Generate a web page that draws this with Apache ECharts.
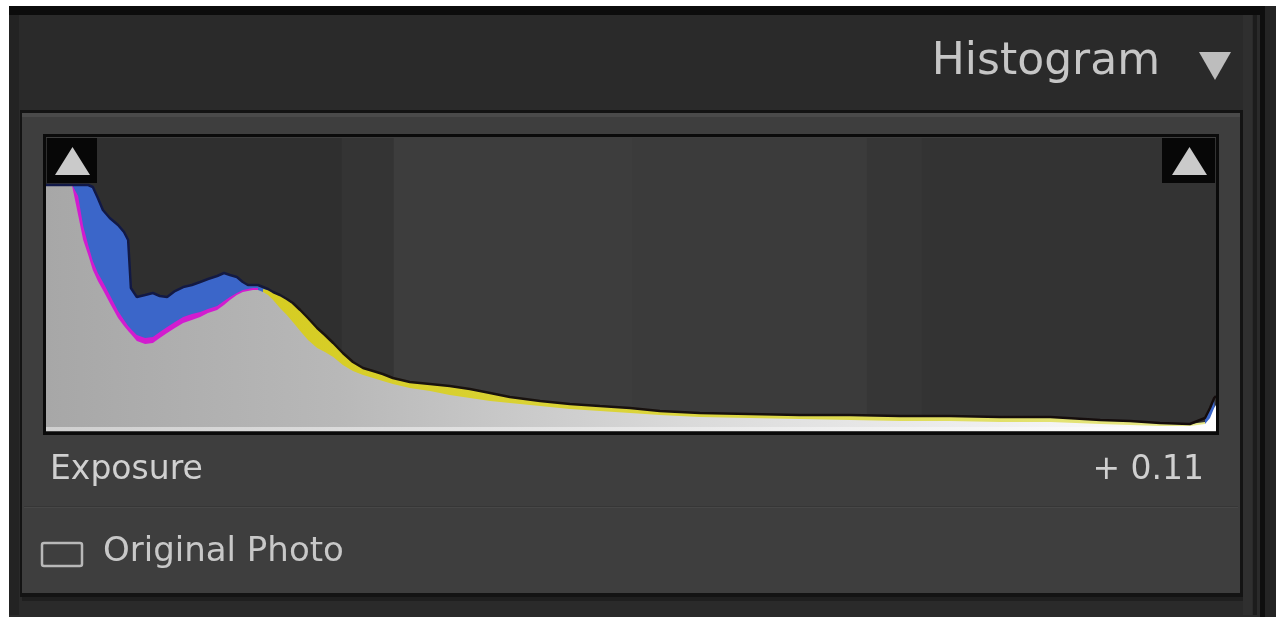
<!DOCTYPE html>
<html><head><meta charset="utf-8">
<script src="https://cdn.jsdelivr.net/npm/echarts@6/dist/echarts.min.js"></script>
<style>html,body{margin:0;padding:0;background:#ffffff;}#c{width:1276px;height:617px;}</style>
</head><body><div id="c"></div>
<script>
// tonal level (0-255) of each sample
const levels = [0,3.1,5.7,7.0,8.1,9.2,10.2,11.3,12.4,13.9,15.7,17.0,17.9,18.5,19.8,21.6,23.3,24.8,26.4,28.1,29.9,31.8,33.6,35.3,37.3,38.8,40.1,41.6,42.9,44.0,45.1,46.2,47.3,48.4,49.5,51.0,52.5,53.8,55.4,57.1,59.1,60.8,62.6,64.7,66.9,69.1,71.3,73.4,75.6,79.3,83.7,88.0,92.4,96.8,101.1,107.7,114.2,120.7,127.3,133.8,142.5,153.4,164.3,175.2,186.1,197.0,207.9,218.9,229.8,236.3,242.8,249.3,252.6,253.7,254.6,255];
// all-channel overlap (gray)
const lumaCounts = [246,246,245,216,191,176,161,150,141,128,113,105,100,97,90,87,88,93,98,103,108,111,114,118,121,126,131,136,139,140,141,141,139,136,131,123,116,109,100,91,83,79,74,66,60,56,53,50,47,43,40,36,33,30,28,25,22,20,18,16,14,13,12,11,10,10,9,9,7,6,5,5,7,13,23,26];
// red+blue overlap (magenta)
const magentaCounts = [246,246,246,235,205,186,170,158,149,136,120,111,105,102,96,93,94,99,104,109,114,117,119,122,125,130,134,138,141,142,143,143,
  null,null,null,null,null,null,null,null,null,null,null,null,null,null,null,null,null,null,null,null,null,null,null,null,null,null,null,null,null,null,null,null,null,null,null,null,null,null,null,null,null,null,null,null];
// blue channel
const blueCounts = [246,246,246,246,246,246,244,233,221,213,206,199,191,143,134,136,138,135,134,140,144,146,149,152,155,158,156,154,149,146,146,146,144,142,
  null,null,null,null,null,null,null,null,null,null,null,null,null,null,null,null,null,null,null,null,null,null,null,null,null,null,null,null,null,null,null,null,null,null,null,null,null,null,
  13,23,33,35];
// red+green overlap (yellow)
const yellowCounts = [null,null,null,null,null,null,null,null,null,null,null,null,null,null,null,null,null,null,null,null,null,null,null,null,null,null,null,null,null,null,null,null,
  142,141,139,136,132,128,121,113,103,96,88,78,69,63,60,57,53,49,47,45,42,38,34,30,27,25,23,20,18,17,16,16,15,15,14,14,11,10,8,7,9,
  null,null,null];
// histogram zones (levels)
const zoneEdges = [0, 64.5, 75.8, 127.9, 178.9, 190.9, 255];
const zoneShades = ['#2f2f2f','#343434','#3d3d3d','#3b3b3b','#363636','#333333'];
const headerTitle = 'Histogram';
const sliderLabel = 'Exposure';
const sliderValue = '+ 0.11';
const checkboxLabel = 'Original Photo';

const pairs = vals => levels.map((l, i) => [l, vals[i] == null ? '-' : vals[i]]);
const envelope = levels.map((l, i) => Math.max(...[lumaCounts[i], magentaCounts[i], blueCounts[i], yellowCounts[i]].filter(v => v != null)));

const G = echarts.graphic;
const FONT = '"DejaVu Sans", sans-serif';
const chart = echarts.init(document.getElementById('c'), null, {renderer: 'canvas'});

function area(name, vals, color, z) {
  return {
    name, type: 'line', data: pairs(vals), symbol: 'none', smooth: false, z,
    lineStyle: {width: 0}, areaStyle: {color, opacity: 1}, silent: true
  };
}

const zoneData = zoneShades.map((c, i) => [{xAxis: zoneEdges[i], itemStyle: {color: c}}, {xAxis: zoneEdges[i + 1]}]);

const option = {
  animation: false,
  backgroundColor: '#ffffff',
  grid: {left: 46, right: 60, top: 138, bottom: 186},
  xAxis: {type: 'value', min: 0, max: 255, show: false},
  yAxis: {type: 'value', min: 0, max: 293, show: false},
  series: [
    Object.assign(area('Blue', blueCounts, '#3b66c9', 3), {
      markArea: {silent: true, z: 1, data: zoneData}
    }),
    area('Magenta', magentaCounts, '#d21ccf', 4),
    area('Yellow', yellowCounts, new G.LinearGradient(0, 0, 1, 0, [
      {offset: 0, color: '#d6cc22'}, {offset: 0.5, color: '#dcd640'}, {offset: 1, color: '#e6e88a'}]), 5),
    area('Luminance', lumaCounts, new G.LinearGradient(0, 0, 1, 0, [
      {offset: 0, color: '#a7a7a7'}, {offset: 0.25, color: '#b8b8b8'}, {offset: 0.55, color: '#dadada'}, {offset: 1, color: '#ffffff'}]), 6),
    {
      name: 'Outline', type: 'line', data: pairs(envelope), symbol: 'none', z: 7, silent: true,
      lineStyle: {width: 2.5, color: new G.LinearGradient(0, 0, 1, 0, [
        {offset: 0, color: '#101848'}, {offset: 0.18, color: '#141a40'}, {offset: 0.22, color: '#1a1410'}, {offset: 1, color: '#140c0c'}])}
    }
  ],
  graphic: [
    // outer frame
    {type: 'rect', z: -20, shape: {x: 9, y: 6, width: 1267, height: 611}, style: {fill: '#2a2a2a'}},
    {type: 'rect', z: -19, shape: {x: 9, y: 6, width: 1267, height: 9}, style: {fill: '#0c0c0c'}},
    {type: 'rect', z: -19, shape: {x: 9, y: 15, width: 10, height: 600}, style: {fill: '#232323'}},
    // right side strips
    {type: 'rect', z: -19, shape: {x: 1243, y: 15, width: 9, height: 600}, style: {fill: '#2f2f2f'}},
    {type: 'rect', z: -19, shape: {x: 1253, y: 15, width: 4, height: 600}, style: {fill: '#1c1c1c'}},
    {type: 'rect', z: -19, shape: {x: 1260, y: 6, width: 5, height: 611}, style: {fill: '#0e0e0e'}},
    {type: 'rect', z: -19, shape: {x: 1265, y: 6, width: 11, height: 611}, style: {fill: '#242424'}},
    // panel
    {type: 'rect', z: -18, shape: {x: 20, y: 110, width: 1223, height: 487}, style: {fill: '#131313'}},
    {type: 'rect', z: -17, shape: {x: 22, y: 113, width: 1218, height: 480}, style: {fill: '#3e3e3e'}},
    {type: 'rect', z: -16, shape: {x: 22, y: 113, width: 1218, height: 4}, style: {fill: '#4a4a4a'}},
    {type: 'rect', z: -16, shape: {x: 22, y: 597, width: 1221, height: 4}, style: {fill: '#1f1f1f'}},
    // separator
    {type: 'rect', z: -15, shape: {x: 24, y: 506, width: 1214, height: 1}, style: {fill: '#363636'}},
    {type: 'rect', z: -15, shape: {x: 24, y: 507, width: 1214, height: 1}, style: {fill: '#474747'}},
    // plot border and baseline
    {type: 'rect', z: 20, shape: {x: 46, y: 427, width: 1170, height: 4}, style: {fill: new G.LinearGradient(0, 0, 1, 0, [
      {offset: 0, color: '#cfcfcf'}, {offset: 1, color: '#ffffff'}])}},
    {type: 'rect', z: 21, shape: {x: 44.5, y: 135.5, width: 1173, height: 298}, style: {fill: 'none', stroke: '#0a0a0a', lineWidth: 3}},
    // clipping indicators
    {type: 'rect', z: 30, shape: {x: 47, y: 138, width: 50, height: 45}, style: {fill: '#070707'}},
    {type: 'polygon', z: 31, shape: {points: [[55, 175], [90, 175], [72.5, 147]]}, style: {fill: '#cacaca'}},
    {type: 'rect', z: 30, shape: {x: 1162, y: 138, width: 53, height: 45}, style: {fill: '#070707'}},
    {type: 'polygon', z: 31, shape: {points: [[1172, 175], [1207, 175], [1189.5, 147]]}, style: {fill: '#cacaca'}},
    // header
    {type: 'text', z: 40, x: 1160, y: 63, style: {text: headerTitle, font: '44px ' + FONT, fill: '#c6c6c6', align: 'right', verticalAlign: 'middle',
      shadowColor: 'rgba(0,0,0,0.7)', shadowBlur: 2, shadowOffsetY: 1}},
    {type: 'polygon', z: 40, shape: {points: [[1199, 52], [1231, 52], [1215, 80]]}, style: {fill: '#bdbdbd'}},
    // slider row
    {type: 'text', z: 40, x: 50, y: 470, style: {text: sliderLabel, font: '33px ' + FONT, fill: '#d0d0d0', align: 'left', verticalAlign: 'middle',
      shadowColor: 'rgba(0,0,0,0.8)', shadowBlur: 3, shadowOffsetY: 1}},
    {type: 'text', z: 40, x: 1204, y: 470, style: {text: sliderValue, font: '33px ' + FONT, fill: '#d0d0d0', align: 'right', verticalAlign: 'middle',
      shadowColor: 'rgba(0,0,0,0.8)', shadowBlur: 3, shadowOffsetY: 1}},
    // checkbox row
    {type: 'rect', z: 40, shape: {x: 42, y: 543, width: 40, height: 23, r: 2}, style: {fill: 'none', stroke: '#b8b8b8', lineWidth: 2.5}},
    {type: 'text', z: 40, x: 103, y: 552, style: {text: checkboxLabel, font: '34px ' + FONT, fill: '#c8c8c8', align: 'left', verticalAlign: 'middle',
      shadowColor: 'rgba(0,0,0,0.8)', shadowBlur: 3, shadowOffsetY: 1}}
  ]
};
chart.setOption(option);
</script>
</body></html>
